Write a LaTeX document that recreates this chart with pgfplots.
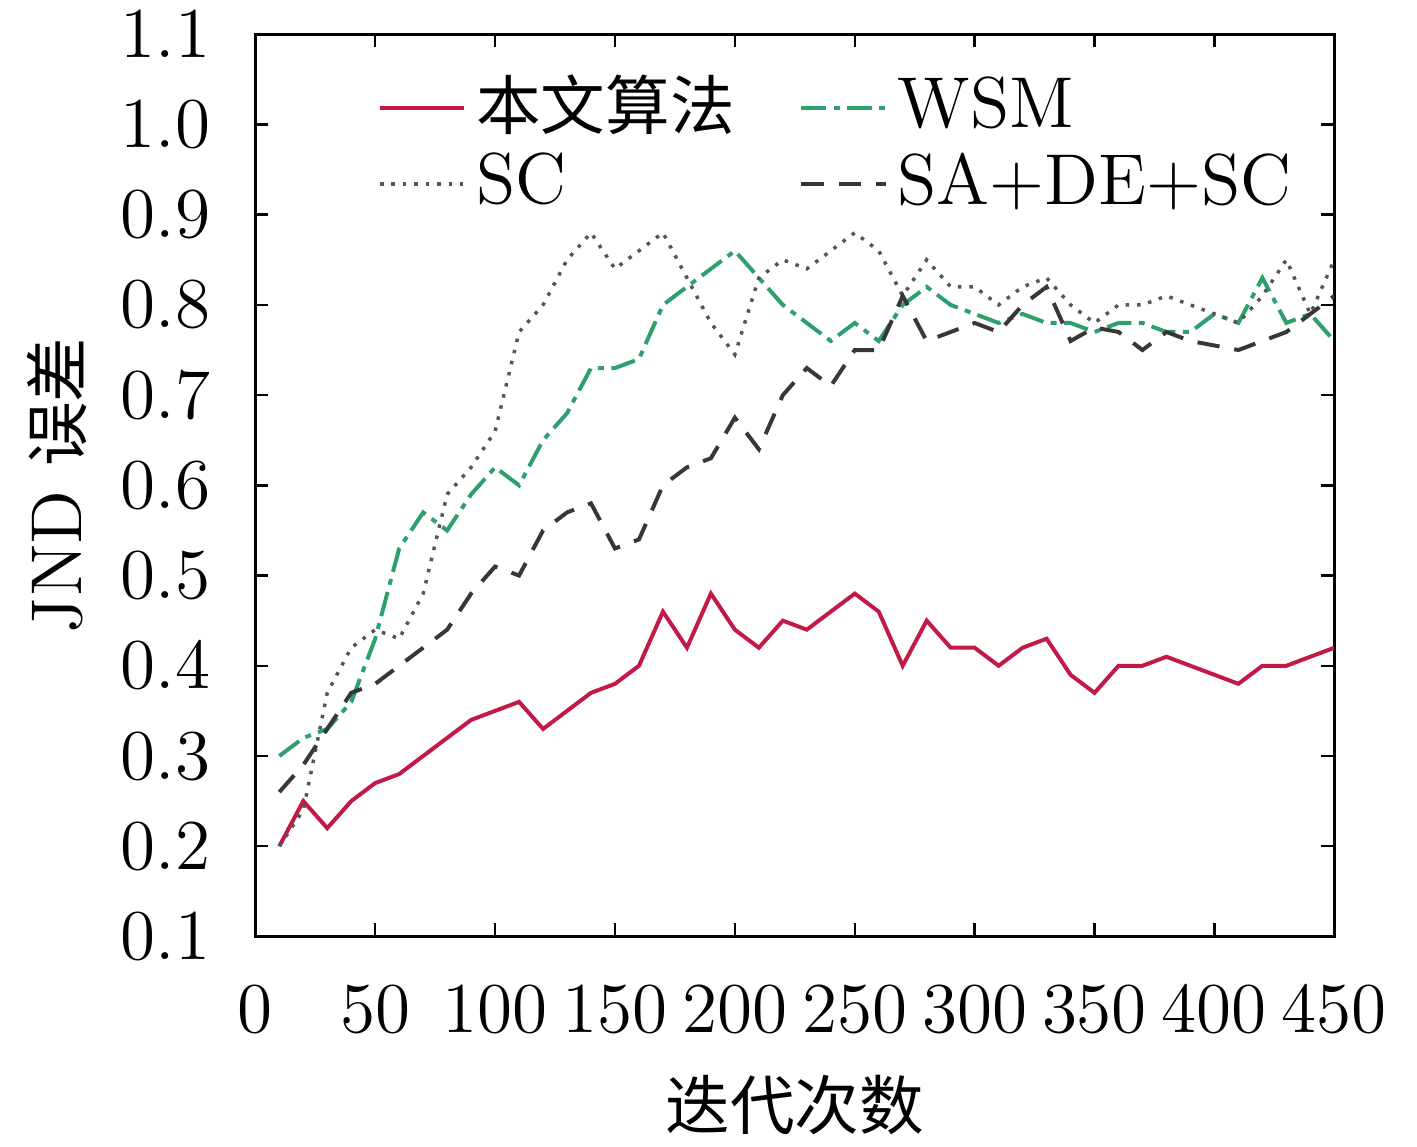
\documentclass[border=0pt]{standalone}
\usepackage{fontspec}
\newfontfamily\cjkf{Noto Sans CJK SC}
\newcommand{\cjk}{\cjkf\fontsize{13}{16}\selectfont}
\usepackage{pgfplots}
\usepackage{pgfplotstable}
\pgfplotsset{compat=1.18}
\definecolor{redline}{RGB}{195,25,70}
\definecolor{wsmcol}{RGB}{45,160,110}
\definecolor{sccol}{RGB}{85,85,85}
\definecolor{sadecol}{RGB}{55,55,55}

\pgfplotstableread{
x ours wsm sc sade
10 0.20 0.30 0.20 0.26
20 0.25 0.32 0.24 0.29
30 0.22 0.33 0.37 0.33
40 0.25 0.36 0.42 0.37
50 0.27 0.43 0.44 0.38
60 0.28 0.53 0.43 0.40
70 0.30 0.57 0.48 0.42
80 0.32 0.55 0.59 0.44
90 0.34 0.59 0.62 0.48
100 0.35 0.62 0.66 0.51
110 0.36 0.60 0.77 0.50
120 0.33 0.65 0.80 0.55
130 0.35 0.68 0.85 0.57
140 0.37 0.73 0.88 0.58
150 0.38 0.73 0.84 0.53
160 0.40 0.74 0.86 0.54
170 0.46 0.80 0.88 0.60
180 0.42 0.82 0.83 0.62
190 0.48 0.84 0.78 0.63
200 0.44 0.86 0.745 0.675
210 0.42 0.83 0.83 0.64
220 0.45 0.80 0.85 0.70
230 0.44 0.78 0.84 0.73
240 0.46 0.76 0.86 0.71
250 0.48 0.78 0.88 0.75
260 0.46 0.76 0.86 0.75
270 0.40 0.80 0.81 0.81
280 0.45 0.82 0.85 0.76
290 0.42 0.80 0.82 0.77
300 0.42 0.79 0.82 0.78
310 0.40 0.78 0.80 0.77
320 0.42 0.79 0.82 0.80
330 0.43 0.78 0.83 0.82
340 0.39 0.78 0.80 0.76
350 0.37 0.77 0.78 0.775
360 0.40 0.78 0.80 0.77
370 0.40 0.78 0.80 0.75
380 0.41 0.77 0.81 0.77
390 0.40 0.77 0.80 0.76
400 0.39 0.79 0.79 0.755
410 0.38 0.78 0.78 0.75
420 0.40 0.83 0.81 0.76
430 0.40 0.78 0.85 0.77
440 0.41 0.79 0.79 0.79
450 0.42 0.76 0.85 0.81
}\datatable

\begin{document}
\fontsize{14.5}{17}\selectfont
\begin{tikzpicture}
\path[use as bounding box] (-51.4pt,-42.2pt) rectangle (233.85pt,188.5pt);
\begin{axis}[
  scale only axis, width=217.2pt, height=181.6pt,
  xmin=0, xmax=450, ymin=0.1, ymax=1.1,
  xtick={0,50,100,150,200,250,300,350,400,450},
  ytick={0.1,0.2,0.3,0.4,0.5,0.6,0.7,0.8,0.9,1.0,1.1},
  yticklabel style={xshift=-4pt},
  y tick label style={/pgf/number format/fixed, /pgf/number format/fixed zerofill, /pgf/number format/precision=1},
  xticklabel style={yshift=-5pt},
  tick align=inside, major tick length=2.6pt,
  axis line style={line width=0.6pt},
  every tick/.style={black, line width=0.5pt},
  font=\fontsize{14.5}{17}\selectfont,
  xlabel={\cjk 迭代次数},
  ylabel={JND {\cjk 误差}},
  xlabel style={at={(axis description cs:0.5,-0.187)}, anchor=center},
  ylabel style={at={(axis description cs:-0.184,0.5)}, anchor=center},
  legend columns=2,
  legend style={draw=none, fill=none, at={(axis description cs:0.099,0.978)}, anchor=north west,
    /tikz/every even column/.append style={column sep=11pt},
    row sep=-1.5pt, font=\fontsize{14.5}{17}\selectfont},
  legend cell align=left,
  legend image code/.code={\draw[#1] (0pt,0pt) -- (17pt,0pt);},
]
\addplot[redline, line width=0.8pt] table[x=x, y=ours] {\datatable};
\addlegendentry{\cjk 本文算法}
\addplot[wsmcol, line width=0.8pt, dash pattern=on 5pt off 1.5pt on 1.2pt off 1.5pt] table[x=x, y=wsm] {\datatable};
\addlegendentry{WSM}
\addplot[sccol, line width=0.7pt, dash pattern=on 0.7pt off 1.6pt] table[x=x, y=sc] {\datatable};
\addlegendentry{SC}
\addplot[sadecol, line width=0.8pt, dash pattern=on 4.5pt off 3pt] table[x=x, y=sade] {\datatable};
\addlegendentry{SA+DE+SC}
\end{axis}
\end{tikzpicture}
\end{document}
